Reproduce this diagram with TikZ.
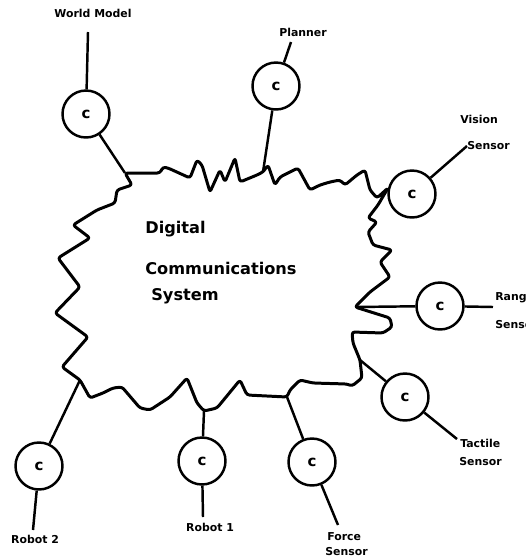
\documentclass[tikz,border=0pt]{standalone}
\usepackage{fontspec}
\setmainfont{DejaVu Sans}
\usetikzlibrary{positioning}

\begin{document}
\begin{tikzpicture}[x=0.02cm,y=-0.02cm,
    cnode/.style={circle,draw,line width=1.4pt,minimum size=0.94cm,inner sep=0pt,font=\bfseries\fontsize{8.5}{8.5}\selectfont},
    link/.style={line width=1.4pt},
    lbl/.style={inner sep=0pt,font=\bfseries\fontsize{6.2}{7}\selectfont},
    big/.style={inner sep=0pt,anchor=west,font=\bfseries\fontsize{9.2}{10}\selectfont}]
    \useasboundingbox (0,0) rectangle (526,556);

    % the cloud
    \draw[line width=1.7pt,line join=round,rounded corners=1.5pt]
        (125,173) coordinate (wmIn) -- (160,173) -- (163,167) -- (168,168) -- (190,178)
        -- (197,160) -- (202,165) -- (210,192) -- (220,170) -- (225,182) -- (235,158)
        -- (240,182) -- (257,175) -- (263,172) coordinate (plIn) -- (268,165) -- (275,185)
        -- (280,177) -- (298,168) -- (310,190) -- (320,185) -- (330,182) -- (340,180)
        -- (345,185) -- (357,175) -- (365,170) -- (370,190) -- (377,198) -- (388,188)
        -- (378,205) -- (368,218) -- (377,222) -- (368,232) -- (373,245) -- (392,250)
        -- (380,262) -- (390,277) -- (370,292) -- (355,307) coordinate (raIn) -- (390,318)
        -- (392,327) -- (383,333) -- (352,332) -- (353,343) -- (360,360) coordinate (taIn)
        -- (362,378) -- (352,386) -- (347,384) -- (313,383) -- (300,380) -- (290,390)
        -- (287,397) coordinate (foIn) -- (247,395) -- (240,380) -- (217,408)
        -- (204,411) coordinate (r1In) -- (197,403) -- (187,378) -- (170,397) -- (150,410)
        -- (140,408) -- (122,387) -- (113,388) -- (103,393) -- (90,398)
        -- (80,380) coordinate (r2In) -- (62,367) -- (88,337) -- (55,313) -- (80,287)
        -- (58,258) -- (90,238) -- (73,225) -- (97,210) -- (115,203) -- (117,190)
        -- (132,185) -- cycle;
    \node[big] (dig) at (145,229) {Digital};
    \node[big] (com) at (145,268) {Communications};
    \node[big] (sys) at (151,296) {System};

    % World Model
    \node[cnode] (wm) at (86,114) {c};
    \coordinate (wmTip) at (88,32);
    \node[lbl] (wmL) at (93,13) {World Model};
    \draw[link] (wmIn) -- (wm) -- (wmTip);

    % Planner
    \node[cnode] (pl) at (276,86) {c};
    \coordinate (plTip) at (291,42);
    \node[lbl] (plL) at (303,32) {Planner};
    \draw[link] (plIn) -- (pl) -- (plTip);

    % Vision Sensor
    \node[cnode] (vi) at (412,194) {c};
    \coordinate (viTip) at (467,146);
    \node[lbl,anchor=west] (viL) at (460,119) {Vision};
    \node[lbl,anchor=west] (viL2) at (viTip) {Sensor};
    \draw[link] (vi) -- (viTip);

    % Range Sensor (cut by the right edge, as printed)
    \node[cnode] (ra) at (440,306) {c};
    \coordinate (raTip) at (493,307);
    \node[lbl,anchor=west] (raL) at (495,298) {Range};
    \node[lbl,anchor=west] (raL2) at (495,325) {Sensor};
    \draw[link] (raIn) -- (ra) -- (raTip);

    % Tactile Sensor
    \node[cnode] (ta) at (405,397) {c};
    \coordinate (taTip) at (457,439);
    \node[lbl,anchor=west] (taL) at (460,443) {Tactile};
    \node[lbl,anchor=west] (taL2) at (459,462) {Sensor};
    \draw[link] (taIn) -- (ta) -- (taTip);

    % Force Sensor
    \node[cnode] (fo) at (312,462) {c};
    \coordinate (foTip) at (338,525);
    \node[lbl,anchor=west] (foL) at (327,537) {Force};
    \node[lbl,anchor=west] (foL2) at (325,552) {Sensor};
    \draw[link] (foIn) -- (fo) -- (foTip);

    % Robot 1
    \node[cnode] (r1) at (202,461) {c};
    \coordinate (r1Tip) at (203,517);
    \node[lbl] (r1L) at (210,527) {Robot 1};
    \draw[link] (r1In) -- (r1) -- (r1Tip);

    % Robot 2
    \node[cnode] (r2) at (39,466) {c};
    \coordinate (r2Tip) at (33,530);
    \node[lbl] (r2L) at (35,539) {Robot 2};
    \draw[link] (r2In) -- (r2) -- (r2Tip);
\end{tikzpicture}
\end{document}
